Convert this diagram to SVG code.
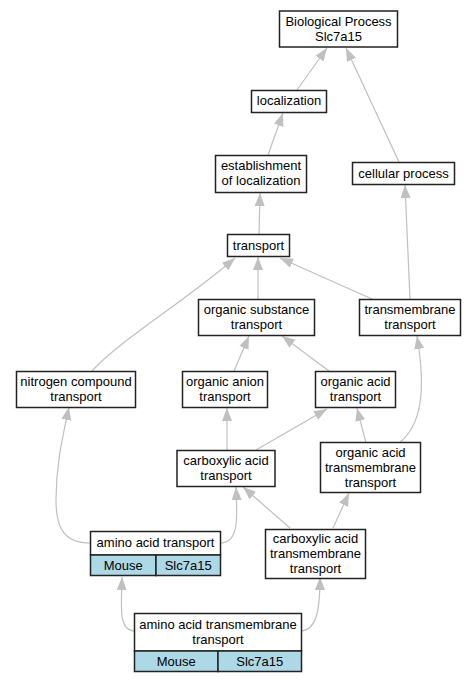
<svg xmlns="http://www.w3.org/2000/svg" width="475" height="683" viewBox="0 0 475 683">
<style>
  .box { fill: #fff; stroke: #222; stroke-width: 1.5; }
  .cell { fill: #add8e6; stroke: #222; stroke-width: 1.5; }
  text { font-family: "Liberation Sans", Arial, sans-serif; font-size: 13px; fill: #000; text-anchor: middle; }
  .edge { fill: none; stroke: #c0c0c0; stroke-width: 1.2; marker-end: url(#arr); }
</style>
<defs>
  <marker id="arr" markerUnits="userSpaceOnUse" markerWidth="14" markerHeight="11" refX="13" refY="5" orient="auto">
    <path d="M0,0 L13,5 L0,10 z" fill="#c0c0c0"/>
  </marker>
</defs>
<rect width="475" height="683" fill="#fff"/>
<g id="edges">
  <path class="edge" d="M297,90 L327,48"/>
  <path class="edge" d="M399,162 L346,48"/>
  <path class="edge" d="M268,155 L283,113"/>
  <path class="edge" d="M259,234 L260,193"/>
  <path class="edge" d="M410,299 L405,185"/>
  <path class="edge" d="M258,299 L258,257"/>
  <path class="edge" d="M372,299 L280,258"/>
  <path class="edge" d="M92,371 C120,340 187,300 235,258"/>
  <path class="edge" d="M234,371 L249,336"/>
  <path class="edge" d="M329,371 L282,336"/>
  <path class="edge" d="M399,443 C422,425 426,390 417,336"/>
  <path class="edge" d="M227,450 L227,408"/>
  <path class="edge" d="M256,450 L327,409"/>
  <path class="edge" d="M366,443 L357,408"/>
  <path class="edge" d="M90,543 C62,543 56,525 56,500 C56,465 62,440 69,407"/>
  <path class="edge" d="M221,543 C237,542 238,525 236,487"/>
  <path class="edge" d="M290,528 L243,487"/>
  <path class="edge" d="M333,528 L349,493"/>
  <path class="edge" d="M134,631 C119,630 121,610 122,577"/>
  <path class="edge" d="M301,631 C316,630 320,612 320,577"/>
</g>
<g id="bio">
  <rect class="box" x="279.5" y="11" width="118" height="36"/>
  <text x="338.5" y="25.5">Biological Process</text>
  <text x="338.5" y="40.5">Slc7a15</text>
</g>
<g id="localization">
  <rect class="box" x="251.5" y="90.5" width="75" height="22"/>
  <text x="289" y="105">localization</text>
</g>
<g id="establishment">
  <rect class="box" x="215.5" y="155.5" width="91" height="37"/>
  <text x="261" y="170">establishment</text>
  <text x="261" y="185">of localization</text>
</g>
<g id="cellular">
  <rect class="box" x="352.5" y="162.5" width="102" height="22"/>
  <text x="403.5" y="177.5">cellular process</text>
</g>
<g id="transport">
  <rect class="box" x="227.5" y="234.5" width="62" height="22"/>
  <text x="258.5" y="249.5">transport</text>
</g>
<g id="orgsubst">
  <rect class="box" x="198.5" y="299.5" width="116" height="36"/>
  <text x="256.5" y="314">organic substance</text>
  <text x="256.5" y="329">transport</text>
</g>
<g id="transmembrane">
  <rect class="box" x="359.5" y="299.5" width="101" height="36"/>
  <text x="410" y="314">transmembrane</text>
  <text x="410" y="329">transport</text>
</g>
<g id="nitrogen">
  <rect class="box" x="16.5" y="371.5" width="119" height="36"/>
  <text x="76" y="386">nitrogen compound</text>
  <text x="76" y="401">transport</text>
</g>
<g id="organion">
  <rect class="box" x="182.5" y="371.5" width="85" height="36"/>
  <text x="225" y="386">organic anion</text>
  <text x="225" y="401">transport</text>
</g>
<g id="orgacid">
  <rect class="box" x="315.5" y="371.5" width="80" height="36"/>
  <text x="355.5" y="386">organic acid</text>
  <text x="355.5" y="401">transport</text>
</g>
<g id="carbox">
  <rect class="box" x="177" y="450.5" width="98" height="36"/>
  <text x="226" y="465">carboxylic acid</text>
  <text x="226" y="480">transport</text>
</g>
<g id="orgacidtm">
  <rect class="box" x="320.5" y="442.5" width="100" height="50"/>
  <text x="370.5" y="456.5">organic acid</text>
  <text x="370.5" y="471.5">transmembrane</text>
  <text x="370.5" y="486.5">transport</text>
</g>
<g id="carboxtm">
  <rect class="box" x="265.5" y="529.5" width="100" height="49"/>
  <text x="315.5" y="543">carboxylic acid</text>
  <text x="315.5" y="558">transmembrane</text>
  <text x="315.5" y="573">transport</text>
</g>
<g id="aminoacid">
  <rect class="box" x="90.5" y="531.5" width="130" height="23.5"/>
  <rect class="cell" x="90.5" y="555" width="65.5" height="20.5"/>
  <rect class="cell" x="156" y="555" width="64.5" height="20.5"/>
  <text x="155.5" y="547">amino acid transport</text>
  <text x="123.3" y="569.5">Mouse</text>
  <text x="188.2" y="569.5">Slc7a15</text>
</g>
<g id="aminoacidtm">
  <rect class="box" x="134.5" y="613.5" width="167" height="37.5"/>
  <rect class="cell" x="134.5" y="651" width="83.5" height="20.5"/>
  <rect class="cell" x="218" y="651" width="83.5" height="20.5"/>
  <text x="218" y="629">amino acid transmembrane</text>
  <text x="218" y="644">transport</text>
  <text x="176.2" y="665.5">Mouse</text>
  <text x="259.8" y="665.5">Slc7a15</text>
</g>
</svg>
